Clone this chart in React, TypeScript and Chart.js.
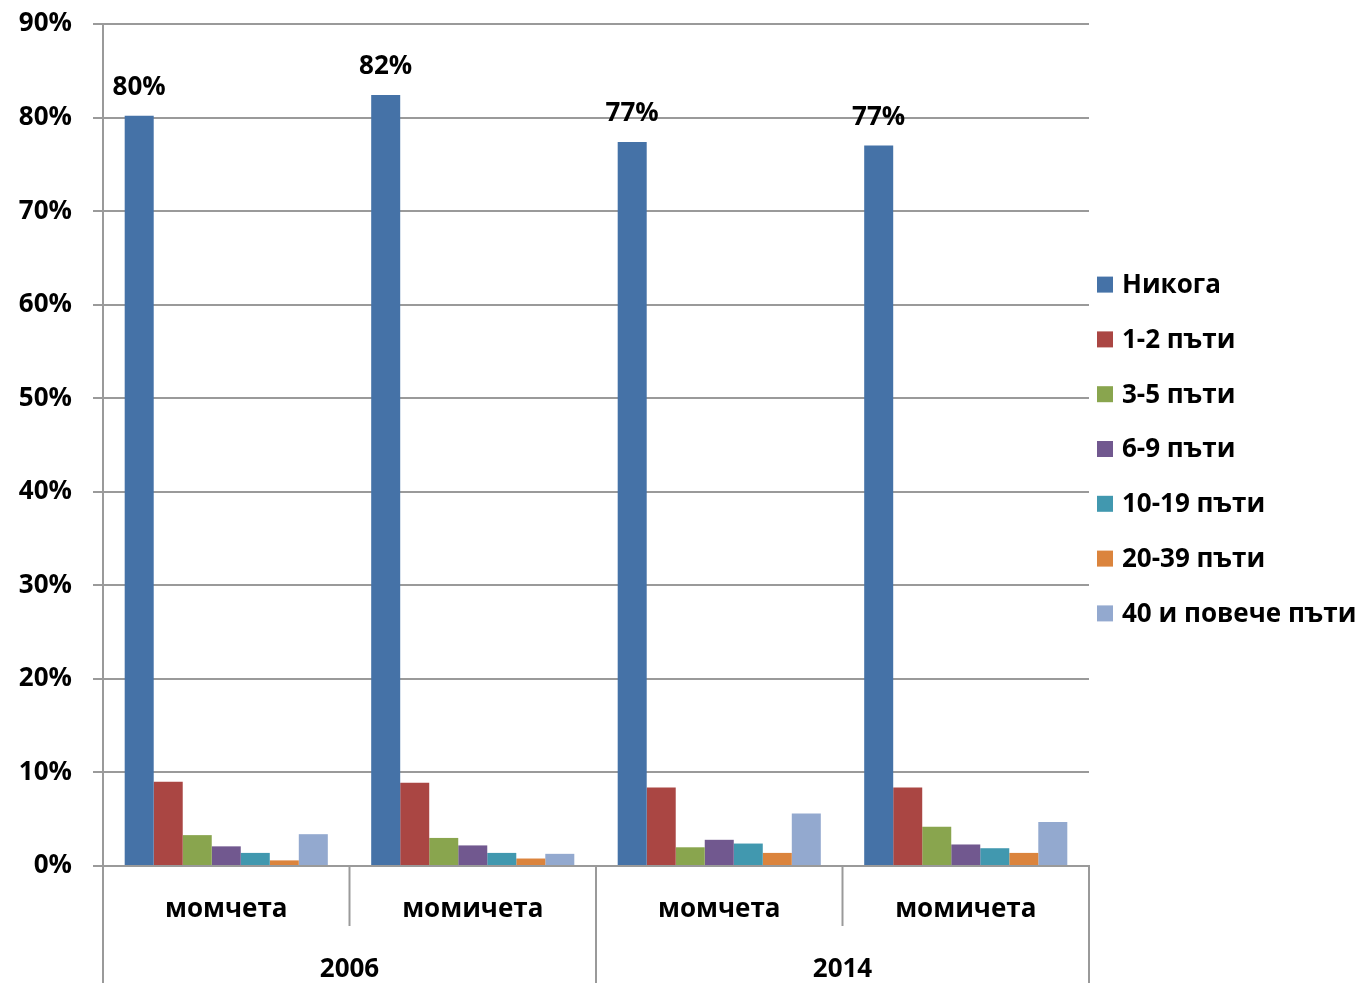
import React, { useEffect, useRef } from "react";
import { Chart, registerables } from "chart.js";

Chart.register(...registerables);

const years = ["2006", "2014"];
const genders = ["момчета", "момичета"];
const categories = ["момчета", "момичета", "момчета", "момичета"];

const seriesNames = [
  "Никога",
  "1-2 пъти",
  "3-5 пъти",
  "6-9 пъти",
  "10-19 пъти",
  "20-39 пъти",
  "40 и повече пъти",
];
const seriesColors = ["#4572A7", "#AA4643", "#89A54E", "#71588F", "#4198AF", "#DB843D", "#93A9CF"];

const never = [80.2, 82.4, 77.4, 77.0];
const times12 = [9.0, 8.9, 8.4, 8.4];
const times35 = [3.3, 3.0, 2.0, 4.2];
const times69 = [2.1, 2.2, 2.8, 2.3];
const times1019 = [1.4, 1.4, 2.4, 1.9];
const times2039 = [0.6, 0.8, 1.4, 1.4];
const times40 = [3.4, 1.3, 5.6, 4.7];

const seriesValues = [never, times12, times35, times69, times1019, times2039, times40];

const yTicks = [0, 10, 20, 30, 40, 50, 60, 70, 80, 90];

const FONT = "'Open Sans', 'Noto Sans', sans-serif";
const FSIZE = 26;
const LINE = "#9a9a9a";

const extrasPlugin = {
  id: "extras",
  afterDraw(chart: any) {
    const ctx = chart.ctx;
    const area = chart.chartArea;
    const x = chart.scales.x;
    ctx.save();
    const n = categories.length;
    const step = x.getPixelForValue(1) - x.getPixelForValue(0);
    const catTop = area.bottom;
    const catBottom = area.bottom + 60;
    const yearBottom = chart.height;
    ctx.strokeStyle = LINE;
    ctx.lineWidth = 2;
    for (let i = 0; i <= n; i++) {
      const px = x.getPixelForValue(0) + (i - 0.5) * step;
      const isYearEdge = i % genders.length === 0;
      ctx.beginPath();
      ctx.moveTo(px, catTop);
      ctx.lineTo(px, isYearEdge ? yearBottom : catBottom);
      ctx.stroke();
    }
    ctx.fillStyle = "#000";
    ctx.font = `bold ${FSIZE}px ${FONT}`;
    ctx.textAlign = "center";
    ctx.textBaseline = "middle";
    categories.forEach((c, i) => {
      ctx.fillText(c, x.getPixelForValue(i), area.bottom + 44);
    });
    years.forEach((yr, j) => {
      const first = j * genders.length;
      const last = first + genders.length - 1;
      const cx = (x.getPixelForValue(first) + x.getPixelForValue(last)) / 2;
      ctx.fillText(yr, cx, area.bottom + 104);
    });
    const meta = chart.getDatasetMeta(0);
    ctx.textBaseline = "alphabetic";
    meta.data.forEach((el: any, i: number) => {
      ctx.fillText(Math.round(never[i]) + "%", el.x, el.y - 21);
    });
    ctx.textAlign = "left";
    ctx.textBaseline = "middle";
    const cy = (area.top + area.bottom) / 2 + 4;
    seriesNames.forEach((name, i) => {
      const ly = cy + (i - (seriesNames.length - 1) / 2) * 54.8;
      ctx.fillStyle = seriesColors[i];
      ctx.fillRect(area.right + 8, ly - 8, 16, 16);
      ctx.fillStyle = "#000";
      ctx.fillText(name, area.right + 33, ly + 1);
    });
    ctx.restore();
  },
};

export default function App() {
  const ref = useRef<HTMLCanvasElement>(null);
  useEffect(() => {
    if (!ref.current) return;
    const chart = new Chart(ref.current, {
      type: "bar",
      data: {
        labels: categories,
        datasets: seriesNames.map((name, i) => ({
          label: name,
          data: seriesValues[i],
          backgroundColor: seriesColors[i],
          borderWidth: 0,
          barPercentage: 1,
          categoryPercentage: 0.824,
        })),
      },
      options: {
        animation: false,
        responsive: false,
        maintainAspectRatio: false,
        layout: { padding: { top: 24, right: 272, left: 0, bottom: 0 } },
        plugins: {
          legend: { display: false },
          tooltip: { enabled: false },
        },
        scales: {
          x: {
            grid: { display: false },
            border: { display: true, color: LINE, width: 2 },
            ticks: { display: false },
            afterFit: (s: any) => {
              s.height = 117;
              s.paddingLeft = 0;
              s.paddingRight = 0;
            },
          },
          y: {
            min: 0,
            max: 90,
            afterBuildTicks: (s: any) => {
              s.ticks = yTicks.map((v) => ({ value: v }));
            },
            grid: { color: LINE, lineWidth: 2, tickLength: 10 },
            border: { display: true, color: LINE, width: 2 },
            ticks: {
              padding: 21,
              color: "#000",
              font: { family: FONT, size: FSIZE, weight: "bold" },
              callback: (v: any) => v + "%",
            },
            afterFit: (s: any) => {
              s.width = 103;
              s.paddingTop = 0;
              s.paddingBottom = 0;
            },
          },
        },
      },
      plugins: [extrasPlugin],
    });
    return () => chart.destroy();
  }, []);
  return (
    <div style={{ position: "fixed", left: 0, top: 0, width: 1361, height: 983 }}>
      <canvas ref={ref} width={1361} height={983} />
    </div>
  );
}
